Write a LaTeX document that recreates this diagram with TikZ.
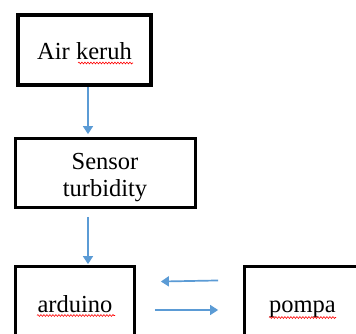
\documentclass[tikz,border=0pt]{standalone}
\usepackage{fontspec}
\setmainfont{Liberation Serif}
\usetikzlibrary{arrows.meta,decorations.pathmorphing,calc}
\definecolor{arrblue}{HTML}{5B9BD5}
\begin{document}
\begin{tikzpicture}[x=1pt,y=-1pt,
  box/.style={draw=black,line width=2.8pt,rectangle,inner sep=0pt},
  txt/.style={inner sep=0pt,font=\fontsize{24.5}{28}\selectfont,align=center},
  arr/.style={draw=arrblue,line width=1.7pt,-{Triangle[width=10pt,length=8pt]}},
  spell/.style={draw=red,line width=0.6pt,decorate,decoration={snake,amplitude=0.9pt,segment length=3pt}}]
\clip (0,0) rectangle (356,334);
\fill[white] (0,0) rectangle (356,334);
\node[box,line width=3.6pt,minimum width=133pt,minimum height=70pt] (air) at (84.5,50) {};
\node[txt,text height=17pt,text depth=6pt] (airtxt) at (84.5,54) {Air keruh};
\node[box,minimum width=180pt,minimum height=69pt] (sensor) at (105.5,173) {};
\node[txt] (sensortxt) at (105,177.5) {Sensor\\[-1pt]turbidity};
\node[box,minimum width=119pt,minimum height=80pt] (arduino) at (75,306.5) {};
\node[txt,text height=17pt,text depth=6pt] (arduinotxt) at (75,306.5) {arduino};
\node[box,minimum width=116pt,minimum height=80pt] (pompa) at (302.5,306.5) {};
\node[txt,text height=17pt,text depth=6pt] (pompatxt) at (302.5,306.5) {pompa};
\draw[arr,shorten >=3pt] ([xshift=3.5pt]air.south) -- ([xshift=3.5pt]air.south |- sensor.north);
\draw[arr,shorten <=8pt,shorten >=1pt] ([xshift=3.5pt]air.south |- sensor.south) -- ([xshift=3.5pt]air.south |- arduino.north);
\draw[arr,shorten <=25pt,shorten >=25pt] (pompa.west |- 0,280) -- (arduino.east |- 0,282);
\draw[arr,shorten <=19pt,shorten >=25pt] (arduino.east |- 0,310) -- (pompa.west |- 0,310);
\draw[spell] (78,63) -- (133,63);
\draw[spell] (37,315.5) -- (115,315.5);
\draw[spell] (269,317.5) -- (336,317.5);
\end{tikzpicture}
\end{document}
